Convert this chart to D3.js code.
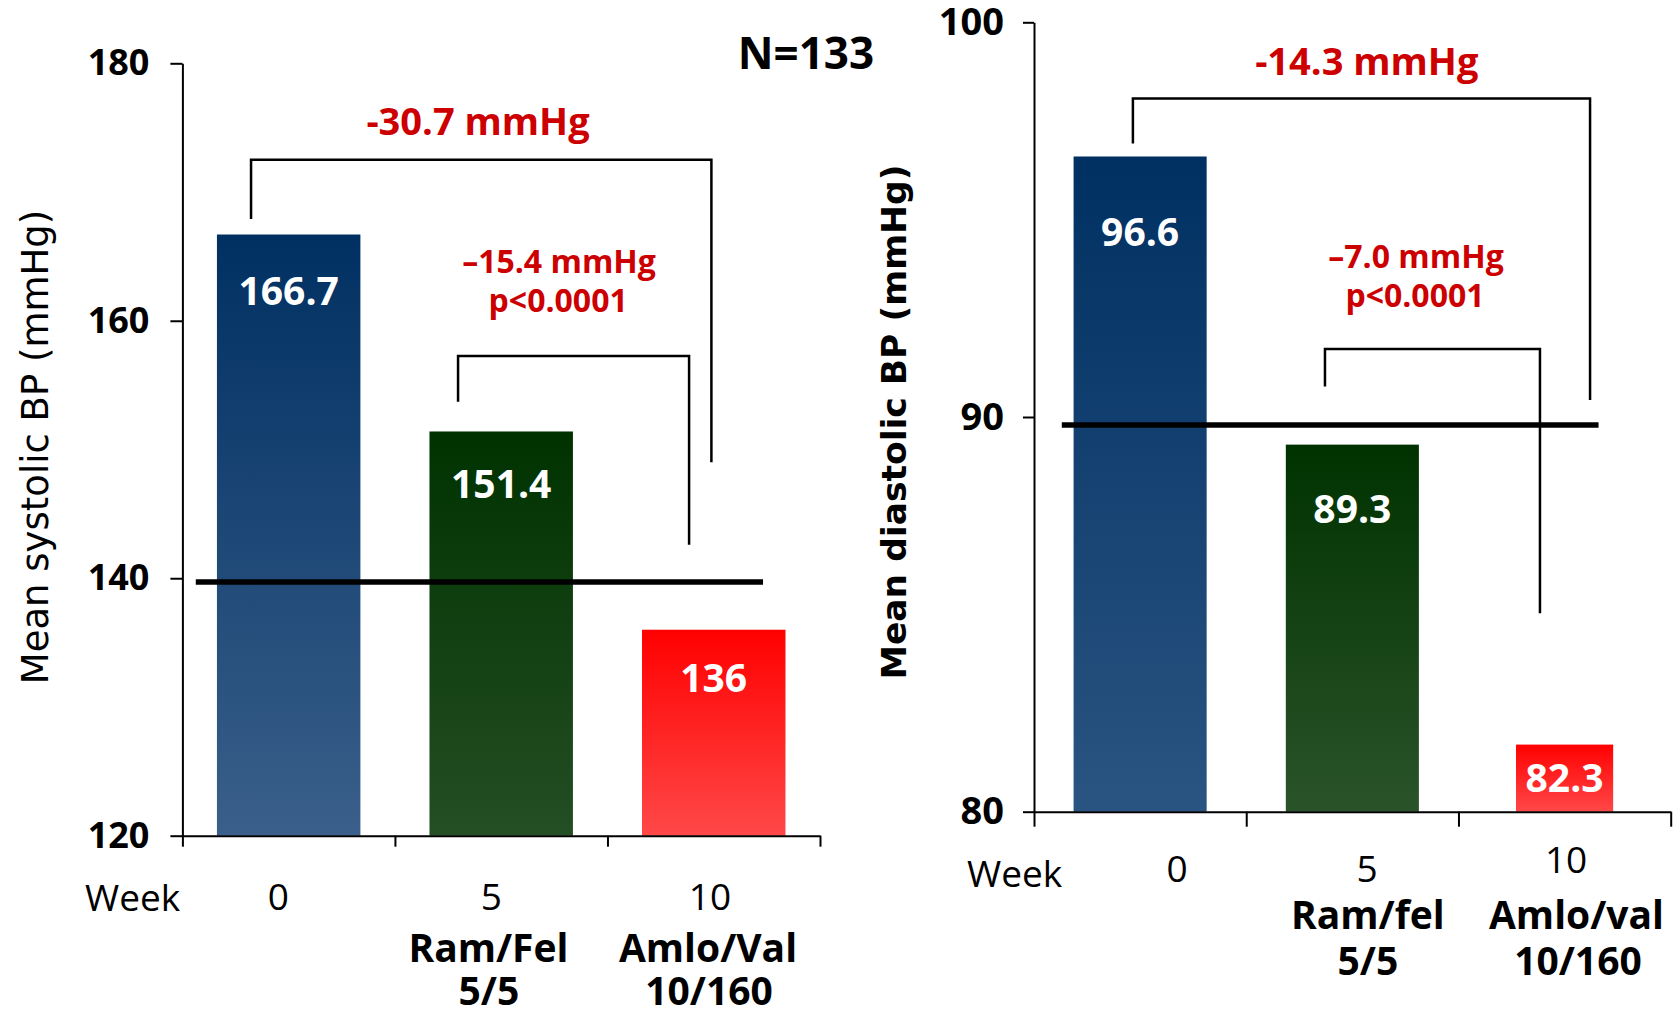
<!DOCTYPE html>
<html><head><meta charset="utf-8">
<script src="https://cdn.jsdelivr.net/npm/d3@7"></script>
<style>html,body{margin:0;padding:0;background:#fff;} svg{display:block;}</style>
</head><body>
<svg id="chart" width="1679" height="1016"></svg>
<script>
// ---------- data ----------
const categories = ["w0", "w5", "w10"];
const weekLabels = ["0", "5", "10"];
const sysDrugLabels = ["", "Ram/Fel", "Amlo/Val"];
const sysDoseLabels = ["", "5/5", "10/160"];
const diaDrugLabels = ["", "Ram/fel", "Amlo/val"];
const diaDoseLabels = ["", "5/5", "10/160"];
const sysValues = [166.7, 151.4, 136];
const sysValueLabels = ["166.7", "151.4", "136"];
const diaValues = [96.6, 89.3, 81.7];          // bar heights as drawn
const diaValueLabels = ["96.6", "89.3", "82.3"];
const sysTicks = [120, 140, 160, 180];
const diaTicks = [80, 90, 100];
const sysTarget = 139.7;
const diaTarget = 89.8;
const sysTotalChange = "-30.7 mmHg";
const sysStepChange = ["\u201315.4 mmHg", "p<0.0001"];
const diaTotalChange = "-14.3 mmHg";
const diaStepChange = ["\u20137.0 mmHg", "p<0.0001"];
const sampleSize = "N=133";
const sysTitle = "Mean systolic BP (mmHg)";
const diaTitle = "Mean diastolic BP (mmHg)";

// ---------- drawing ----------
const svg = d3.select("#chart");
const defs = svg.append("defs");
const RED = "#cc0000";
const NUMFONT = "'Open Sans', 'Noto Sans', sans-serif";

function gradient(id, top, bottom) {
  const g = defs.append("linearGradient").attr("id", id)
    .attr("x1", 0).attr("y1", 0).attr("x2", 0).attr("y2", 1);
  g.append("stop").attr("offset", "0%").attr("stop-color", top);
  g.append("stop").attr("offset", "100%").attr("stop-color", bottom);
}

function drawPanel(c) {
  const g = svg.append("g");
  const x = d3.scaleBand().domain(categories).range(c.xRange)
    .paddingInner(c.pad).paddingOuter(c.pad / 2);
  const xc = d3.scaleLinear().domain([0, 3]).range(c.xRange);
  const y = d3.scaleLinear().domain(c.yDomain).range(c.yRange);
  const base = y(c.yDomain[0]);

  c.colors.forEach((col, i) => gradient(c.id + "g" + i, col[0], col[1]));

  // bars
  g.selectAll("rect.bar").data(c.values).join("rect")
    .attr("class", "bar")
    .attr("x", (d, i) => x(categories[i]) + x.bandwidth() * (1 - c.widthFactor[i]) / 2)
    .attr("width", (d, i) => x.bandwidth() * c.widthFactor[i])
    .attr("y", d => y(d))
    .attr("height", d => base - y(d))
    .attr("fill", (d, i) => `url(#${c.id}g${i})`);

  // value labels
  g.selectAll("text.val").data(c.values).join("text")
    .attr("x", (d, i) => x(categories[i]) + x.bandwidth() / 2)
    .attr("y", (d, i) => y(d) + c.labelOffset[i])
    .attr("text-anchor", "middle")
    .attr("fill", "#fff")
    .style("font", `700 39px ${NUMFONT}`)
    .text((d, i) => c.valueLabels[i]);

  // target line
  g.append("line")
    .attr("x1", xc(c.target[0])).attr("x2", xc(c.target[1]))
    .attr("y1", y(c.targetValue)).attr("y2", y(c.targetValue))
    .attr("stroke", "#000").attr("stroke-width", 5.5);

  // brackets
  c.brackets.forEach(b => {
    g.append("path")
      .attr("d", `M${xc(b.l)},${y(b.lb)}V${y(b.top)}H${xc(b.r)}V${y(b.rb)}`)
      .attr("fill", "none").attr("stroke", "#000").attr("stroke-width", 2.5);
  });

  // annotations
  c.notes.forEach(n => {
    g.append("text").attr("x", xc(n.u)).attr("y", y(n.v))
      .attr("text-anchor", "middle").attr("fill", n.color || RED)
      .style("font", `700 ${n.size}px ${NUMFONT}`)
      .text(n.text);
  });

  // y axis
  const ya = g.append("g").attr("transform", `translate(${c.xRange[0]},0)`)
    .call(d3.axisLeft(y).tickValues(c.ticks).tickSize(c.yTick).tickSizeOuter(0)
      .tickPadding(c.yPad).tickFormat(d3.format("d")));
  ya.selectAll("path,line").attr("stroke", "#000").attr("stroke-width", 2);
  ya.selectAll("text").attr("fill", "#000").style("font", `700 ${c.tickFont}px ${NUMFONT}`);

  // x axis (boundaries)
  const xa = g.append("g").attr("transform", `translate(0,${base})`)
    .call(d3.axisBottom(xc).tickValues([0, 1, 2, 3]).tickFormat("")
      .tickSize(c.xTick).tickSizeOuter(0));
  xa.selectAll("path,line").attr("stroke", "#000").attr("stroke-width", 2);

  // x labels
  g.append("text").attr("x", c.weekX).attr("y", base + c.weekWordDy)
    .style("font", `400 37px ${NUMFONT}`).attr("fill", "#000").text("Week");
  weekLabels.forEach((t, i) => {
    g.append("text").attr("x", xc(c.weekU[i])).attr("y", base + c.weekDy[i])
      .attr("text-anchor", "middle").attr("fill", "#000")
      .style("font", `400 37px ${NUMFONT}`).text(t);
  });
  c.drugs.forEach((t, i) => {
    if (!t) return;
    g.append("text").attr("x", xc(c.drugU[i])).attr("y", base + c.drugDy)
      .attr("text-anchor", "middle").attr("fill", "#000")
      .style("font", `700 39px ${NUMFONT}`).text(t);
  });
  c.doses.forEach((t, i) => {
    if (!t) return;
    g.append("text").attr("x", xc(c.doseU[i])).attr("y", base + c.doseDy)
      .attr("text-anchor", "middle").attr("fill", "#000")
      .style("font", `700 39px ${NUMFONT}`).text(t);
  });

  // y title
  g.append("text")
    .attr("transform", `translate(${c.titleX},${c.titleY}) rotate(-90)`)
    .attr("text-anchor", "middle").attr("fill", "#000")
    .style("font", c.titleFont)
    .text(c.title);
}

drawPanel({
  id: "sys", xRange: [182.4, 820], yDomain: [120, 180], yRange: [835.7, 63.3], pad: 0.325,
  values: sysValues, valueLabels: sysValueLabels, labelOffset: [70, 67, 62],
  widthFactor: [1, 1, 1],
  colors: [["#003062", "#3a5f8a"], ["#003200", "#244e24"], ["#ff0000", "#ff4848"]],
  target: [0.063, 2.732], targetValue: sysTarget,
  brackets: [
    { l: 0.323, lb: 167.9, top: 172.5, r: 2.489, rb: 149.0 },
    { l: 1.297, lb: 153.7, top: 157.26, r: 2.384, rb: 142.6 }
  ],
  notes: [
    { u: 1.391, v: 174.4, text: sysTotalChange, size: 38 },
    { u: 1.772, v: 163.7, text: sysStepChange[0], size: 32 },
    { u: 1.768, v: 160.7, text: sysStepChange[1], size: 32 },
    { u: 2.934, v: 179.53, text: sampleSize, size: 44, color: "#000" }
  ],
  ticks: sysTicks, yTick: 12, yPad: 21, tickFont: 36, xTick: 11,
  weekX: 85, weekWordDy: 75, weekU: [0.451, 1.453, 2.482], weekDy: [74, 74, 74],
  drugs: sysDrugLabels, drugU: [0, 1.440, 2.473], drugDy: 126.3,
  doses: sysDoseLabels, doseU: [0, 1.442, 2.478], doseDy: 168.8,
  title: sysTitle, titleX: 48, titleY: 447, titleFont: "400 37px 'DejaVu Sans', sans-serif"
});

drawPanel({
  id: "dia", xRange: [1034, 1670.7], yDomain: [80, 100], yRange: [811.7, 22.3], pad: 0.373,
  values: diaValues, valueLabels: diaValueLabels, labelOffset: [90, 78, 47],
  widthFactor: [1, 1, 0.73],
  colors: [["#003062", "#2a5481"], ["#003200", "#2a532a"], ["#ff0000", "#ff4848"]],
  target: [0.131, 2.660], targetValue: diaTarget,
  brackets: [
    { l: 0.466, lb: 96.93, top: 98.07, r: 2.620, rb: 90.43 },
    { l: 1.371, lb: 90.77, top: 91.72, r: 2.384, rb: 85.03 }
  ],
  notes: [
    { u: 1.568, v: 98.66, text: diaTotalChange, size: 38 },
    { u: 1.800, v: 93.77, text: diaStepChange[0], size: 32 },
    { u: 1.795, v: 92.79, text: diaStepChange[1], size: 32 }
  ],
  ticks: diaTicks, yTick: 11, yPad: 19, tickFont: 38, xTick: 15,
  weekX: 967, weekWordDy: 75, weekU: [0.674, 1.569, 2.507], weekDy: [70, 70, 61],
  drugs: diaDrugLabels, drugU: [0, 1.573, 2.556], drugDy: 117.6,
  doses: diaDoseLabels, doseU: [0, 1.573, 2.563], doseDy: 163.3,
  title: diaTitle, titleX: 906, titleY: 422, titleFont: "700 34.5px 'DejaVu Sans', sans-serif"
});
</script>
</body></html>
